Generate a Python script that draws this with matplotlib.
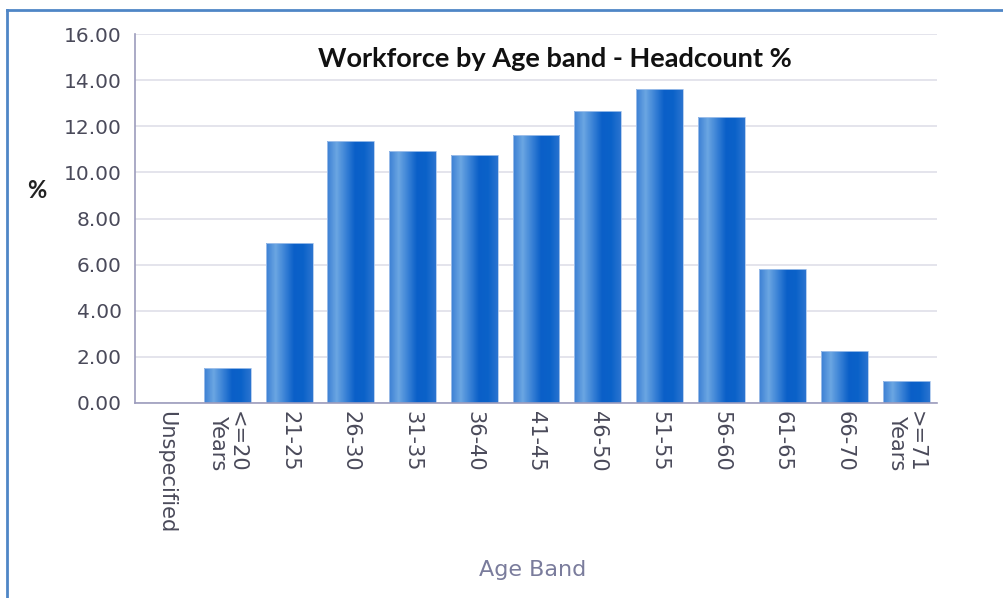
import numpy as np
import matplotlib.pyplot as plt
from matplotlib.colors import LinearSegmentedColormap
from matplotlib.lines import Line2D

# values
bands = ['Unspecified', '<=20\nYears', '21-25', '26-30', '31-35', '36-40', '41-45',
         '46-50', '51-55', '56-60', '61-65', '66-70', '>=71\nYears']
headcount_pct = [0.0, 1.52, 6.94, 11.36, 10.93, 10.75, 11.62,
                 12.66, 13.62, 12.40, 5.81, 2.25, 0.95]
yticks = [0, 2, 4, 6, 8, 10, 12, 14, 16]

plt.rcParams['font.family'] = ['DejaVu Sans']

fig = plt.figure(figsize=(10.04, 5.98), dpi=100)
ax = fig.add_axes([135 / 1004, 1 - 403 / 598, 802 / 1004, 369 / 598])

# horizontal shading of each bar: light stripe on the left, dark in the middle
shade = LinearSegmentedColormap.from_list(
    'bar', ['#3c80d4', '#6ba6e2', '#3a82d6', '#0a5fc8', '#0b62c9', '#2a74d0'])
grad = np.linspace(0, 1, 64).reshape(1, -1)

x = np.arange(len(bands))
bars = ax.bar(x, headcount_pct, width=0.76, color='none', edgecolor='#a9c6ec',
              linewidth=0.6, zorder=2)
for b in bars:
    if b.get_height() <= 0:
        b.set_edgecolor('none')
        continue
    x0, w, h = b.get_x(), b.get_width(), b.get_height()
    im = ax.imshow(grad, cmap=shade, aspect='auto', extent=(x0, x0 + w, 0, h),
                   zorder=1.9, interpolation='bilinear')
    im.set_clip_path(b)

ax.set_xlim(-0.5, len(bands) - 0.5)
ax.set_ylim(0, 16)
ax.set_yticks(yticks)
ax.set_yticklabels(['%.2f' % v for v in yticks])
ax.set_xticks(x)
ax.set_xticklabels(bands, rotation=-90, va='top', ha='center', linespacing=0.95)

ax.yaxis.grid(True, color='#e2e2ea', linewidth=1.3, zorder=0)
ax.set_axisbelow(True)
for s in ['top', 'right']:
    ax.spines[s].set_visible(False)
for s in ['left', 'bottom']:
    ax.spines[s].set_color('#9c9cbc')
    ax.spines[s].set_linewidth(1.2)
ax.tick_params(axis='both', length=0, colors='#4a4a5a')
ax.tick_params(axis='y', pad=9.5, labelsize=14.5)
ax.tick_params(axis='x', pad=6, labelsize=15)

ax.text(0.524, 0.932, 'Workforce by Age band - Headcount %', transform=ax.transAxes,
        ha='center', va='center', fontsize=19.5, fontweight='bold',
        family='Lato', color='#111111')
fig.text(37 / 1004, 1 - 190 / 598, '%', ha='center', va='center',
         fontsize=17, fontweight='bold', family='Lato', color='#222222')
fig.text(533 / 1004, 1 - 570 / 598, 'Age Band', ha='center', va='center',
         fontsize=16, color='#7a7c9c')

# frame around the chart (only top and left edges are visible)
fig.add_artist(Line2D([7 / 1004, 1], [1 - 10 / 598] * 2, color='#4f86c6', lw=2))
fig.add_artist(Line2D([7 / 1004] * 2, [0, 1 - 10 / 598], color='#4f86c6', lw=2))

fig.savefig('out.png', dpi=100)
